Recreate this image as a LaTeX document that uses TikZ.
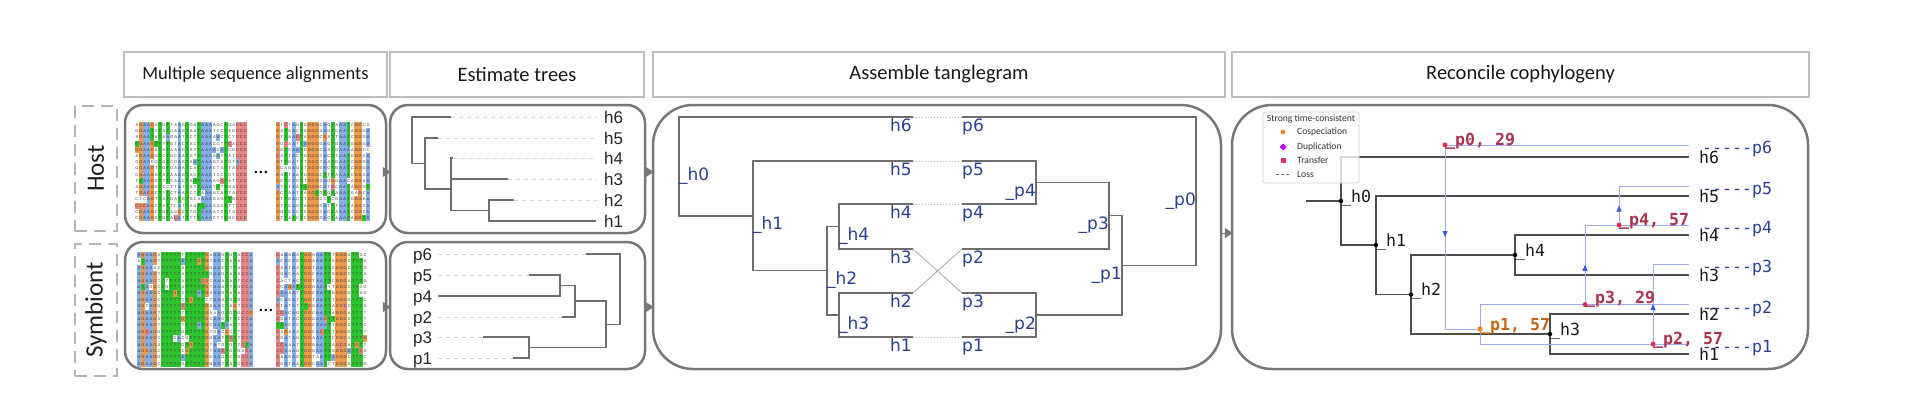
\documentclass[tikz,border=0pt]{standalone}
\usepackage{fontspec}
\setmainfont{Carlito}
\newfontfamily\tangfont{DejaVu Sans}
\newfontfamily\recmono{DejaVu Sans Mono}
\newfontfamily\treefont{Liberation Sans}
\usetikzlibrary{arrows.meta,decorations.markings,calc}

\definecolor{panelgray}{HTML}{777777}
\definecolor{hdrgray}{HTML}{BEBEBE}
\definecolor{dashgray}{HTML}{B4B4B4}
\definecolor{treegray}{HTML}{6E6E6E}
\definecolor{leafdash}{HTML}{D2D2D2}
\definecolor{tangblue}{HTML}{2B3F8C}
\definecolor{recline}{HTML}{A0AAF2}
\definecolor{recarrow}{HTML}{3A5AE0}
\definecolor{recmaroon}{HTML}{A8344F}
\definecolor{recred}{HTML}{E0305A}
\definecolor{recorange}{HTML}{FF7F0E}
\definecolor{recorangetxt}{HTML}{C2661C}
\definecolor{legpurple}{HTML}{C000FF}
\definecolor{msao}{HTML}{EE9A4D}
\definecolor{msab}{HTML}{86AEEA}
\definecolor{msag}{HTML}{2EC42E}
\definecolor{msar}{HTML}{E98585}
\definecolor{msaw}{HTML}{FFFFFF}

\pgfmathdeclarerandomlist{nuc}{{o}{b}{g}{r}{w}{w}}
\pgfmathdeclarerandomlist{nl}{{A}{T}{C}{G}}
\def\nucLo{G}\def\nucLb{A}\def\nucLg{T}\def\nucLr{C}

\newcommand\msablock[7]{%
  \foreach \cc [count=\ci from 0] in {#6}{%
    \foreach \rj in {1,...,#3}{%
      \pgfmathrandominteger{\rr}{0}{99}%
      \ifnum\rr<8 \pgfmathrandomitem{\ccol}{nuc}\else\edef\ccol{\cc}\fi
      \if w\ccol\pgfmathrandomitem{\clet}{nl}\else\edef\clet{\csname nucL\ccol\endcsname}\fi
      \fill[fill=msa\ccol] ({#1+\ci*#4},{#2+(\rj-1)*#5}) rectangle ++(#4,#5);
      \node[msalet] (#7-\ci-\rj) at ({#1+(\ci+0.5)*#4},{#2+(\rj-0.5)*#5}) {\clet};
    }%
  }%
}

\begin{document}
\begin{tikzpicture}[x=1pt,y=-1pt,
  hdr/.style={draw=hdrgray, line width=2pt, fill=white, minimum height=45pt, inner sep=0pt, text=black!90, font=\fontsize{20.5}{24}\selectfont},
  panel/.style={draw=panelgray, line width=2.5pt, rounded corners=18pt, inner sep=0pt},
  bigpanel/.style={panel, rounded corners=40pt},
  lblbox/.style={draw=dashgray, line width=2.5pt, dash pattern=on 12pt off 7pt, inner sep=0pt},
  flow/.style={draw=panelgray, fill=panelgray, line width=1pt, -{Triangle[length=8pt,width=10pt]}, shorten >=-2pt},
  etree/.style={draw=treegray, line width=1.3pt},
  edash/.style={draw=leafdash, line width=1pt, dash pattern=on 4pt off 4pt},
  treelbl/.style={anchor=base west, inner sep=0pt, font=\treefont\fontsize{17}{20}\selectfont, text=black!85},
  tline/.style={draw=treegray, line width=1.4pt},
  tlink/.style={draw=black!30, line width=1pt, dotted},
  tcross/.style={draw=black!35, line width=0.8pt},
  tlbl/.style={anchor=base west, inner sep=0pt, font=\tangfont\fontsize{17}{20}\selectfont, text=tangblue},
  tlblr/.style={tlbl, anchor=base east},
  rhost/.style={draw=black!70, line width=1.5pt},
  rsym/.style={draw=recline, line width=1pt},
  rtrans/.style={rsym, postaction={decorate}, decoration={markings, mark=at position 0.5 with {\arrow[color=recarrow]{Triangle[length=6pt,width=5pt]}}}},
  rlbl/.style={anchor=base west, inner sep=0pt, font=\recmono\fontsize{16.6}{20}\selectfont, text=black!90},
  rplbl/.style={rlbl, text=tangblue},
  revent/.style={rlbl, font=\recmono\bfseries\fontsize{16.6}{20}\selectfont, text=recmaroon},
  hdot/.style={circle, fill=black, inner sep=0pt, minimum size=4.5pt},
  tdot/.style={circle, fill=recred, inner sep=0pt, minimum size=5pt},
  cdot/.style={circle, fill=recorange, inner sep=0pt, minimum size=5pt},
  msalet/.style={inner sep=0pt, font=\treefont\fontsize{4}{4}\selectfont, text=black!80},
  legtxt/.style={inner sep=0pt, font=\fontsize{9.6}{11}\selectfont, text=black!80}
]
\useasboundingbox (0,0) rectangle (1908,400);
\fill[white] (0,0) rectangle (1908,400);

% ---------- headers
\node[hdr, minimum width=263pt, font=\fontsize{18.5}{22}\selectfont] (hdrMSA) at (255.5,74.5) {Multiple sequence alignments};
\node[hdr, minimum width=254pt] (hdrTree) at (517,74.5) {Estimate trees};
\node[hdr, minimum width=572pt] (hdrTang) at (939,74.5) {Assemble tanglegram};
\node[hdr, minimum width=577pt] (hdrRec) at (1520.5,74.5) {Reconcile cophylogeny};

% ---------- side labels
\node[lblbox, minimum width=42pt, minimum height=125pt] (hostBox) at (96,168.5) {};
\node[rotate=90, inner sep=0pt, font=\fontsize{25}{30}\selectfont, text=black!88] (hostTxt) at (hostBox.center) {Host};
\node[lblbox, minimum width=42pt, minimum height=132pt] (symBox) at (96,310) {};
\node[rotate=90, inner sep=0pt, font=\fontsize{25}{30}\selectfont, text=black!88] (symTxt) at (symBox.center) {Symbiont};

% ---------- panels
\node[panel, minimum width=261pt, minimum height=128pt] (msaH) at (255.5,169) {};
\node[panel, minimum width=261pt, minimum height=127pt] (msaS) at (255.5,305.5) {};
\node[panel, minimum width=255pt, minimum height=128pt] (treeH) at (517.5,169) {};
\node[panel, minimum width=255pt, minimum height=127pt] (treeS) at (517.5,305.5) {};
\node[bigpanel, minimum width=568pt, minimum height=264pt] (tang) at (937,237) {};
\node[bigpanel, minimum width=576pt, minimum height=264pt] (rec) at (1520,237) {};

% ---------- flow arrows
\coordinate (fa1) at ([yshift=-3pt]msaH.east);
\coordinate (fa2) at ([yshift=-1.5pt]msaS.east);
\coordinate (fa3) at ([yshift=-3pt]treeH.east);
\coordinate (fa4) at ([yshift=-1.5pt]treeS.east);
\coordinate (fa5) at ([yshift=4pt]tang.east);
\draw[flow] (fa1) -- (fa1 -| treeH.west);
\draw[flow] (fa2) -- (fa2 -| treeS.west);
\draw[flow] (fa3) -- (fa3 -| tang.west);
\draw[flow] (fa4) -- (fa4 -| tang.west);
\draw[flow] (fa5) -- (fa5 -| rec.west);

% ---------- MSA blocks
\pgfmathsetseed{4242}
\msablock{135}{122}{16}{3.87}{6.2}{w,o,b,b,o,w,g,w,g,w,w,b,w,g,w,w,g,b,b,b,w,w,w,g,w,w,r,r,r}{hl}
\msablock{276}{122}{16}{3.92}{6.2}{o,w,g,w,b,w,g,w,o,o,o,w,b,w,g,w,b,b,g,w,o,o,w,b}{hr}
\msablock{137}{252}{18}{4.0}{6.4}{b,o,b,b,o,w,g,g,g,g,g,w,g,g,g,g,g,o,w,b,b,w,g,w,g,w,r,r,b}{sl}
\msablock{276}{252}{18}{3.96}{6.4}{r,w,b,w,b,w,g,o,o,w,b,b,g,g,w,o,o,o,w,g,g,g,w}{sr}
\node[inner sep=0pt, font=\fontsize{20}{20}\selectfont] (dotsH) at (261,172) {\dots};
\node[inner sep=0pt, font=\fontsize{20}{20}\selectfont] (dotsS) at (266,310) {\dots};

% ---------- Estimate trees: host
\coordinate (eR) at (412,140);
\coordinate (eA) at (425,163.5);
\coordinate (eB) at (451,189);
\coordinate (eC) at (489,210.5);
\coordinate (e6) at (451,117);
\coordinate (e5) at (438,138);
\coordinate (e4) at (453,158);
\coordinate (e3) at (508,179);
\coordinate (e2) at (514,200);
\coordinate (e1) at (596,221);
\node[treelbl] (eLh6) at (604,123) {h6};
\node[treelbl] (eLh5) at (604,144) {h5};
\node[treelbl] (eLh4) at (604,164) {h4};
\node[treelbl] (eLh3) at (604,185) {h3};
\node[treelbl] (eLh2) at (604,206) {h2};
\node[treelbl] (eLh1) at (604,227) {h1};
\draw[edash, shorten >=7pt] (e6) -- (e6 -| eLh6.west);
\draw[edash, shorten >=7pt] (e5) -- (e5 -| eLh5.west);
\draw[edash, shorten >=7pt] (e4) -- (e4 -| eLh4.west);
\draw[edash, shorten >=7pt] (e3) -- (e3 -| eLh3.west);
\draw[edash, shorten >=7pt] (e2) -- (e2 -| eLh2.west);
\draw[etree] (eR) |- (e6);
\draw[etree] (eR) |- (eA);
\draw[etree] (eA) |- (e5);
\draw[etree] (eA) |- (eB);
\draw[etree] (eB) |- (e4);
\draw[etree] (eB) |- (e3);
\draw[etree] (eB) |- (eC);
\draw[etree] (eC) |- (e2);
\draw[etree] (eC) |- (e1);

% ---------- Estimate trees: symbiont
\coordinate (sR) at (620,289);
\coordinate (sS) at (606,324.5);
\coordinate (sT) at (575,301);
\coordinate (sV) at (560,285.5);
\coordinate (sU) at (529,347.5);
\coordinate (s6) at (586,254);
\coordinate (s5) at (529,275);
\coordinate (s4) at (438,296);
\coordinate (s2) at (562,317);
\coordinate (s3) at (483,337);
\coordinate (s1) at (513,358);
\node[treelbl] (sLp6) at (413,260) {p6};
\node[treelbl] (sLp5) at (413,281) {p5};
\node[treelbl] (sLp4) at (413,302) {p4};
\node[treelbl] (sLp2) at (413,323) {p2};
\node[treelbl] (sLp3) at (413,343) {p3};
\node[treelbl] (sLp1) at (413,364) {p1};
\draw[edash, shorten <=6pt] (sLp6.east |- s6) -- (s6);
\draw[edash, shorten <=6pt] (sLp5.east |- s5) -- (s5);
\draw[edash, shorten <=6pt] (sLp2.east |- s2) -- (s2);
\draw[edash, shorten <=6pt] (sLp3.east |- s3) -- (s3);
\draw[edash, shorten <=6pt] (sLp1.east |- s1) -- (s1);
\draw[etree] (sR) |- (s6);
\draw[etree] (sR) |- (sS);
\draw[etree] (sS) |- (sT);
\draw[etree] (sS) |- (sU);
\draw[etree] (sT) |- (sV);
\draw[etree] (sT) |- (s2);
\draw[etree] (sV) |- (s5);
\draw[etree] (sV) |- (s4);
\draw[etree] (sU) |- (s3);
\draw[etree] (sU) |- (s1);

% ---------- Tanglegram: host tree
\coordinate (tH0) at (679,166.4);
\coordinate (tH1) at (753,215.9);
\coordinate (tH2) at (827,270.75);
\coordinate (tH4) at (839,226.5);
\coordinate (tH3) at (839,315);
\coordinate (tL6) at (913,117);
\coordinate (tL5) at (913,161);
\coordinate (tL4) at (913,204);
\coordinate (tL3) at (913,249);
\coordinate (tL2) at (913,293);
\coordinate (tL1) at (913,337);
\draw[tline] (tH0) |- (tL6);
\draw[tline] (tH0) |- (tH1);
\draw[tline] (tH1) |- (tL5);
\draw[tline] (tH1) |- (tH2);
\draw[tline] (tH2) |- (tH4);
\draw[tline] (tH2) |- (tH3);
\draw[tline] (tH4) |- (tL4);
\draw[tline] (tH4) |- (tL3);
\draw[tline] (tH3) |- (tL2);
\draw[tline] (tH3) |- (tL1);
% symbiont tree
\coordinate (tp0) at (1196,191.2);
\coordinate (tp1) at (1122,265.4);
\coordinate (tp3) at (1109,215.75);
\coordinate (tp4) at (1036,182.5);
\coordinate (tp2) at (1036,315);
\coordinate (tP6) at (962,117);
\coordinate (tP5) at (962,161);
\coordinate (tP4) at (962,204);
\coordinate (tP2) at (962,249);
\coordinate (tP3) at (962,293);
\coordinate (tP1) at (962,337);
\draw[tline] (tp0) |- (tP6);
\draw[tline] (tp0) |- (tp1);
\draw[tline] (tp1) |- (tp3);
\draw[tline] (tp1) |- (tp2);
\draw[tline] (tp3) |- (tp4);
\draw[tline] (tp3) |- (tP2);
\draw[tline] (tp4) |- (tP5);
\draw[tline] (tp4) |- (tP4);
\draw[tline] (tp2) |- (tP3);
\draw[tline] (tp2) |- (tP1);
% links
\draw[tlink] (tL6) -- (tP6);
\draw[tlink] (tL5) -- (tP5);
\draw[tlink] (tL4) -- (tP4);
\draw[tlink] (tL1) -- (tP1);
\draw[tcross] (tL3) -- (tP3);
\draw[tcross] (tL2) -- (tP2);
% labels
\node[tlbl] (tlh6) at (890,131) {h6};
\node[tlbl] (tlh5) at (890,175) {h5};
\node[tlbl] (tlh4) at (890,218) {h4};
\node[tlbl] (tlh3) at (890,263) {h3};
\node[tlbl] (tlh2) at (890,307) {h2};
\node[tlbl] (tlh1) at (890,351) {h1};
\node[tlbl] (tlp6) at (962,131) {p6};
\node[tlbl] (tlp5) at (962,175) {p5};
\node[tlbl] (tlp4) at (962,218) {p4};
\node[tlbl] (tlp2) at (962,263) {p2};
\node[tlbl] (tlp3) at (962,307) {p3};
\node[tlbl] (tlp1) at (962,351) {p1};
\node[tlbl] (tlH0) at ($(tH0)+(0,14)$) {\_h0};
\node[tlbl] (tlH1) at ($(tH1)+(0,14)$) {\_h1};
\node[tlbl] (tlH2) at ($(tH2)+(0,14)$) {\_h2};
\node[tlbl] (tlH4) at ($(tH4)+(0,14)$) {\_h4};
\node[tlbl] (tlH3) at ($(tH3)+(0,14)$) {\_h3};
\node[tlblr] (tlP0) at ($(tp0)+(0,14)$) {\_p0};
\node[tlblr] (tlP1) at ($(tp1)+(0,14)$) {\_p1};
\node[tlblr] (tlP3) at ($(tp3)+(0,14)$) {\_p3};
\node[tlblr] (tlP4) at ($(tp4)+(0,14)$) {\_p4};
\node[tlblr] (tlP2) at ($(tp2)+(0,14)$) {\_p2};

% ---------- Reconcile: host tree
\coordinate (rroot) at (1306,201);
\coordinate (rh0) at (1341,201);
\coordinate (rh1) at (1376,245);
\coordinate (rh2) at (1411,294.5);
\coordinate (rh4) at (1515,255);
\coordinate (rh3) at (1550,334);
\coordinate (rL6) at (1689,157);
\coordinate (rL5) at (1689,196);
\coordinate (rL4) at (1689,235);
\coordinate (rL3) at (1689,275);
\coordinate (rL2) at (1689,314);
\coordinate (rL1) at (1689,354);
\draw[rhost] (rroot) -- (rh0);
\draw[rhost] (rh0) |- (rL6);
\draw[rhost] (rh0) |- (rh1);
\draw[rhost] (rh1) |- (rL5);
\draw[rhost] (rh1) |- (rh2);
\draw[rhost] (rh2) |- (rh4);
\draw[rhost] (rh2) |- (rh3);
\draw[rhost] (rh4) |- (rL4);
\draw[rhost] (rh4) |- (rL3);
\draw[rhost] (rh3) |- (rL2);
\draw[rhost] (rh3) |- (rL1);
% symbiont tree
\coordinate (rp0) at (1445,145);
\coordinate (rp1) at (1480,329);
\coordinate (rp3) at (1585,304.5);
\coordinate (rp4) at (1619,225);
\coordinate (rp2) at (1653,344);
\coordinate (rP6) at (1689,145);
\coordinate (rP5) at (1689,186);
\coordinate (rP4) at (1689,225);
\coordinate (rP3) at (1689,264);
\coordinate (rP2) at (1689,304.5);
\coordinate (rP1) at (1689,344);
\coordinate (rc0) at (rp0 |- rp1);
\coordinate (rc1t) at (rp1 |- rp3);
\coordinate (rc1b) at (rp1 |- rp2);
\coordinate (rc3) at (rp3 |- rp4);
\coordinate (rc4) at (rp4 |- rP5);
\coordinate (rc2) at (rp2 |- rP3);
\draw[rsym] (rp0) -- (rP6);
\draw[rtrans] (rp0) -- (rc0);
\draw[rsym] (rc0) -- (rp1);
\draw[rsym] (rc1t) -- (rc1b);
\draw[rsym] (rc1t) -- (rp3);
\draw[rsym] (rc1b) -- (rp2);
\draw[rsym] (rp3) -- (rP2);
\draw[rtrans] (rp3) -- (rc3);
\draw[rsym] (rc3) -- (rp4);
\draw[rsym] (rp4) -- (rP4);
\draw[rtrans] (rp4) -- (rc4);
\draw[rsym] (rc4) -- (rP5);
\draw[rsym] (rp2) -- (rP1);
\draw[rtrans] (rp2) -- (rc2);
\draw[rsym] (rc2) -- (rP3);
% dots
\node[hdot] (dh0) at (rh0) {};
\node[hdot] (dh1) at (rh1) {};
\node[hdot] (dh2) at (rh2) {};
\node[hdot] (dh4) at (rh4) {};
\node[hdot] (dh3) at (rh3) {};
\node[tdot] (dp0) at (rp0) {};
\node[cdot] (dp1) at (rp1) {};
\node[tdot] (dp3) at (rp3) {};
\node[tdot] (dp4) at (rp4) {};
\node[tdot] (dp2) at (rp2) {};
% labels
\node[rlbl] (rlH0) at ($(rh0)+(0,1)$) {\_h0};
\node[rlbl] (rlH1) at ($(rh1)+(0,1)$) {\_h1};
\node[rlbl] (rlH2) at ($(rh2)+(0,1)$) {\_h2};
\node[rlbl] (rlH4) at ($(rh4)+(0,1)$) {\_h4};
\node[rlbl] (rlH3) at ($(rh3)+(0,1)$) {\_h3};
\node[revent] (rlP0) at ($(rp0)+(0,0)$) {\_p0, 29};
\node[revent, text=recorangetxt] (rlP1) at ($(rp1)+(0,1)$) {\_p1, 57};
\node[revent] (rlP3) at ($(rp3)+(0,-1)$) {\_p3, 29};
\node[revent] (rlP4) at ($(rp4)+(0,0)$) {\_p4, 57};
\node[revent] (rlP2) at ($(rp2)+(0,0)$) {\_p2, 57};
\node[rlbl] (rlh6) at (1699,163) {h6};
\node[rlbl] (rlh5) at (1699,202) {h5};
\node[rlbl] (rlh4) at (1699,241) {h4};
\node[rlbl] (rlh3) at (1699,281) {h3};
\node[rlbl] (rlh2) at (1699,320) {h2};
\node[rlbl] (rlh1) at (1699,360) {h1};
\node[rplbl] (rlp6) at (1702,153) {-{}-{}-{}-{}-p6};
\node[rplbl] (rlp5) at (1702,194) {-{}-{}-{}-{}-p5};
\node[rplbl] (rlp4) at (1702,233) {-{}-{}-{}-{}-p4};
\node[rplbl] (rlp3) at (1702,272) {-{}-{}-{}-{}-p3};
\node[rplbl] (rlp2) at (1702,313) {-{}-{}-{}-{}-p2};
\node[rplbl] (rlp1) at (1702,352) {-{}-{}-{}-{}-p1};

% legend
\node[draw=black!18, line width=0.8pt, fill=white, fill opacity=0.8, rounded corners=2pt, minimum width=96pt, minimum height=71pt, inner sep=0pt] (legend) at (1311,147.5) {};
\node[legtxt] (legT) at (1311,119) {Strong time-consistent};
\fill[recorange] (1283,132) circle (2.3);
\fill[legpurple] (1283,143.5) -- (1286.5,147) -- (1283,150.5) -- (1279.5,147) -- cycle;
\fill[recred] (1280.5,157.5) rectangle (1285.5,162.5);
\draw[black!60, line width=0.8pt, dash pattern=on 3pt off 2pt] (1276,174) -- (1291,174);
\node[legtxt, anchor=west] (legC) at (1297,132) {Cospeciation};
\node[legtxt, anchor=west] (legD) at (1297,147) {Duplication};
\node[legtxt, anchor=west] (legTr) at (1297,160) {Transfer};
\node[legtxt, anchor=west] (legL) at (1297,174) {Loss};
\end{tikzpicture}
\end{document}
